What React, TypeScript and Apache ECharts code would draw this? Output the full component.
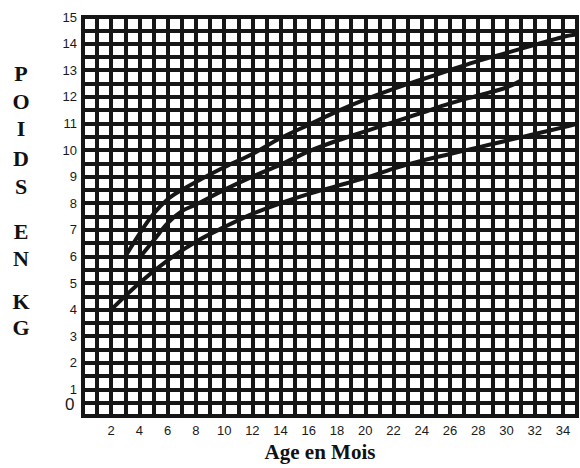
import React, { useEffect, useRef } from "react";
import * as echarts from "echarts";

// Tick labels
const xTickLabels = ["2", "4", "6", "8", "10", "12", "14", "16", "18", "20", "22", "24", "26", "28", "30", "32", "34"];
const yTickLabels = ["1", "2", "3", "4", "5", "6", "7", "8", "9", "10", "11", "12", "13", "14", "15"];

// Curve data (age in months, weight in kg)
const topMonths = [3, 4, 5, 6, 7, 8, 10, 12, 14, 16, 18, 20, 22, 24, 26, 28, 30, 32, 34, 35];
const topWeights = [6.0, 6.85, 7.6, 8.15, 8.5, 8.8, 9.35, 9.85, 10.45, 10.95, 11.45, 11.9, 12.3, 12.65, 13.0, 13.35, 13.65, 13.95, 14.25, 14.35];

const midMonths = [4, 5, 6, 7, 8, 10, 12, 14, 16, 18, 20, 22, 24, 26, 28, 30, 31];
const midWeights = [5.95, 6.6, 7.25, 7.7, 7.95, 8.5, 9.0, 9.45, 9.95, 10.35, 10.7, 11.05, 11.4, 11.75, 12.05, 12.35, 12.6];

const lowMonths = [2, 4, 6, 8, 10, 12, 14, 16, 18, 20, 22, 24, 26, 28, 30, 32, 34, 35];
const lowWeights = [4.0, 5.0, 5.85, 6.55, 7.1, 7.6, 8.0, 8.35, 8.65, 8.95, 9.3, 9.6, 9.85, 10.1, 10.35, 10.6, 10.85, 10.98];

const yTitleLetters = ["P", "O", "I", "D", "S", "E", "N", "K", "G"];
const yTitleY = [73, 101, 128, 158, 186, 231, 258, 301, 327];

const INK = "#161616";

export default function App() {
  const ref = useRef<HTMLDivElement>(null);
  useEffect(() => {
    if (!ref.current) return;
    const chart = echarts.init(ref.current, null, { renderer: "svg" });
    const mk = (ms: number[], ws: number[]) => ms.map((m, i) => [m, ws[i]]);
    const lineSeries = (name: string, data: number[][]) => ({
      name,
      type: "line",
      data,
      smooth: 0.35,
      showSymbol: false,
      symbol: "none",
      lineStyle: { color: INK, width: 4 },
      z: 5,
    });
    chart.setOption({
      animation: false,
      backgroundColor: "#ffffff",
      grid: {
        left: 83,
        right: 3,
        top: 17,
        bottom: 52,
        show: true,
        borderColor: INK,
        borderWidth: 4,
        backgroundColor: "#ffffff",
      },
      xAxis: {
        type: "value",
        min: 0,
        max: 35,
        interval: 1,
        axisLine: { show: true, lineStyle: { color: INK, width: 4 } },
        axisTick: { show: false },
        splitLine: { show: true, lineStyle: { color: INK, width: 4 } },
        axisLabel: {
          margin: 8,
          color: "#1a1a1a",
          fontFamily: "Liberation Sans, Arial, sans-serif",
          fontSize: 13,
          formatter: (v: number) => (xTickLabels.includes(String(v)) ? String(v) : ""),
        },
      },
      yAxis: {
        type: "value",
        min: 0,
        max: 15,
        interval: 0.5,
        axisLine: { show: true, lineStyle: { color: INK, width: 4 } },
        axisTick: { show: false },
        splitLine: { show: true, lineStyle: { color: INK, width: 4 } },
        axisLabel: {
          margin: 6,
          color: "#1a1a1a",
          fontFamily: "Liberation Sans, Arial, sans-serif",
          fontSize: 13,
          formatter: (v: number) => (yTickLabels.includes(String(v)) ? String(v) : ""),
        },
      },
      series: [
        lineSeries("haut", mk(topMonths, topWeights)),
        lineSeries("milieu", mk(midMonths, midWeights)),
        lineSeries("bas", mk(lowMonths, lowWeights)),
      ],
      graphic: [
        {
          type: "text",
          left: 65,
          top: 396,
          style: {
            text: "0",
            fill: "#1a1a1a",
            font: "17px 'Liberation Sans', Arial, sans-serif",
          },
        },
        {
          type: "text",
          x: 320,
          y: 452,
          style: {
            text: "Age en Mois",
            fill: "#111",
            font: "bold 21px 'Liberation Serif', 'Times New Roman', serif",
            align: "center",
            verticalAlign: "middle",
          },
        },
        ...yTitleLetters.map((ch, i) => ({
          type: "text",
          x: 21,
          y: yTitleY[i],
          style: {
            text: ch,
            fill: "#111",
            font: "bold 22px 'Liberation Serif', 'Times New Roman', serif",
            align: "center",
            verticalAlign: "middle",
          },
        })),
      ],
    });
    return () => chart.dispose();
  }, []);
  return (
    <div
      ref={ref}
      style={{ position: "fixed", left: 0, top: 0, width: 580, height: 468, background: "#fff" }}
    />
  );
}
